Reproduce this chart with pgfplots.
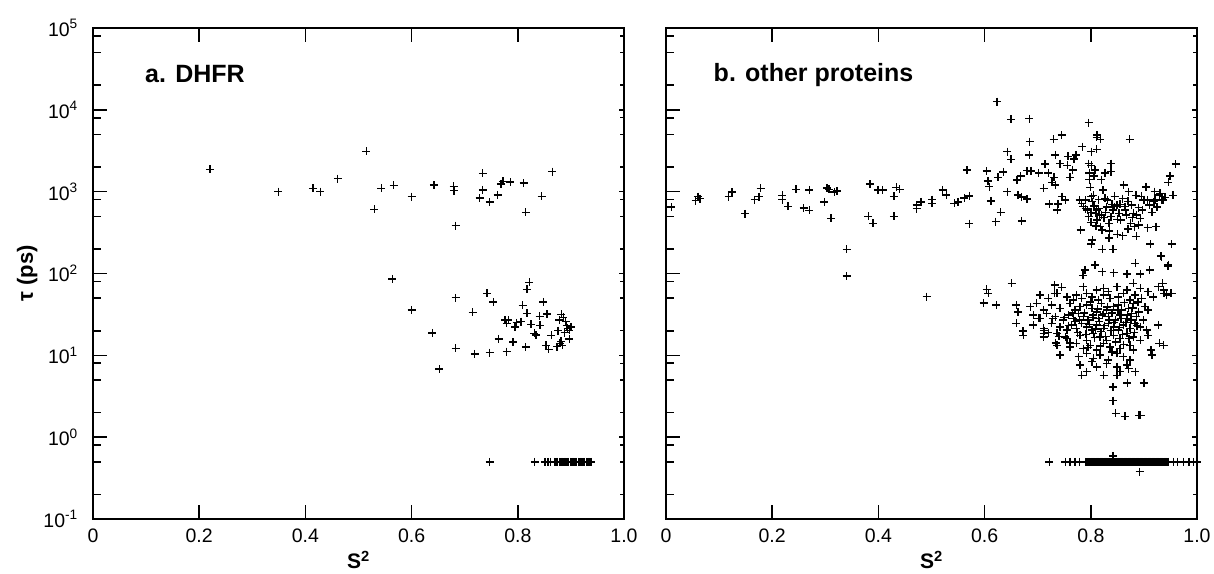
\documentclass[border=0pt]{standalone}
\usepackage{fontspec}
\setmainfont{Liberation Sans}
\usepackage{pgfplots}
\pgfplotsset{compat=1.18}

\pgfplotsset{every axis/.append style={
    scale only axis, width=531pt, height=491pt,
    xmin=0, xmax=1, ymin=0.1, ymax=1e5,
    clip=false,
    ytick={0.1,1,10,100,1000,10000,100000},
    minor ytick={0.2,0.5,0.8,2,5,8,20,50,80,200,500,800,2000,5000,8000,20000,50000,80000},
    tick align=inside,
    axis line style={line width=2pt},
}}
\tikzset{mypts/.style={only marks, mark=+, black, mark size=4pt, mark options={line width=1.4pt}}}

\begin{document}
\begin{tikzpicture}
% ---------------- panel a ----------------
\begin{semilogyaxis}[at={(0pt,0pt)}, anchor=south west,
    xtick={0,0.2,0.4,0.6,0.8,1.0},
    xticklabels={0,0.2,0.4,0.6,0.8,1.0},
    ytick pos=left,
    major tick length=14pt, minor tick length=8pt,
    major tick style={black, line width=1.6pt},
    minor tick style={black, line width=1.6pt},
    tick label style={font=\fontsize{19.5}{19.5}\selectfont, inner sep=0pt},
    xticklabel shift=10pt,
    yticklabel shift=15pt,
    xlabel={\textbf{S\textsuperscript{2}}},
    xlabel style={at={(axis description cs:0.5,-0.1015)}, anchor=base, inner sep=0pt, font=\fontsize{21}{21}\selectfont},
  yticklabels={10\textsuperscript{-1},10\textsuperscript{0},10\textsuperscript{1},10\textsuperscript{2},10\textsuperscript{3},10\textsuperscript{4},10\textsuperscript{5}},
  ylabel={\textbf{τ (ps)}},
  ylabel style={at={(axis description cs:-0.113,0.5)}, anchor=base, inner sep=0pt, font=\fontsize{22}{22}\selectfont},
]
\addplot[mypts] table {
0.220 1870
0.349 1000
0.414 1100
0.428 1000
0.461 1440
0.515 3100
0.530 607
0.543 1100
0.566 1190
0.600 867
0.642 1200
0.679 1160
0.680 1025
0.683 384
0.734 1670
0.734 1050
0.728 836
0.747 746
0.762 908
0.768 1245
0.772 1335
0.786 1310
0.811 1270
0.815 558
0.845 875
0.865 1755
0.564 86
0.822 78
0.817 64
0.600 35.7
0.639 18.8
0.652 6.8
0.683 50.5
0.683 12.2
0.715 33.4
0.719 10.4
0.742 57
0.754 44.7
0.747 10.8
0.764 15.9
0.776 26.9
0.782 27
0.779 24.5
0.779 11.1
0.791 14.5
0.795 22.3
0.798 25
0.806 25.9
0.809 40.7
0.817 32.5
0.815 12.6
0.825 24
0.831 18.5
0.834 17.7
0.841 29.9
0.842 23.2
0.848 45
0.855 31.9
0.853 13.3
0.858 11.8
0.863 17.5
0.876 20
0.879 14
0.882 31.6
0.884 13.3
0.886 29
0.890 25.7
0.894 21.3
0.897 20.2
0.900 22.3
0.897 15.9
0.881 14.8
0.888 19
0.892 23
0.878 27
0.874 12.8
0.747 0.5
0.832 0.5
0.851 0.5
0.857 0.5
0.862 0.5
0.869 0.5
0.872 0.5
0.875 0.5
0.878 0.5
0.881 0.5
0.884 0.5
0.887 0.5
0.890 0.5
0.893 0.5
0.896 0.5
0.899 0.5
0.902 0.5
0.905 0.5
0.908 0.5
0.911 0.5
0.914 0.5
0.917 0.5
0.920 0.5
0.923 0.5
0.926 0.5
0.929 0.5
0.932 0.5
0.935 0.5
0.938 0.5
};
\node[anchor=base west, inner sep=0pt, font=\fontsize{25}{25}\bfseries\selectfont] at (rel axis cs:0.098,0.8886) {a. DHFR};
\end{semilogyaxis}
\begin{semilogyaxis}[at={(0pt,0pt)}, anchor=south west,
    axis x line=none, axis y line*=right,
    yticklabels={},
    major tick length=5pt, minor tick length=4pt,
    major tick style={black, line width=1.4pt},
    minor tick style={black, line width=1.4pt}]
\addplot[draw=none] coordinates {(0.5,1)};
\end{semilogyaxis}

% ---------------- panel b ----------------
\begin{semilogyaxis}[at={(573pt,0pt)}, anchor=south west, yticklabels={},
    xtick={0,0.2,0.4,0.6,0.8,1.0},
    xticklabels={0,0.2,0.4,0.6,0.8,1.0},
    ytick pos=left,
    major tick length=14pt, minor tick length=8pt,
    major tick style={black, line width=1.6pt},
    minor tick style={black, line width=1.6pt},
    tick label style={font=\fontsize{19.5}{19.5}\selectfont, inner sep=0pt},
    xticklabel shift=10pt,
    yticklabel shift=15pt,
    xlabel={\textbf{S\textsuperscript{2}}},
    xlabel style={at={(axis description cs:0.5,-0.1015)}, anchor=base, inner sep=0pt, font=\fontsize{21}{21}\selectfont},
]
\addplot[mypts] table {
0.010 649
0.056 774
0.060 867
0.064 820
0.118 867
0.124 990
0.149 537
0.167 800
0.175 867
0.178 1096
0.219 900
0.219 800
0.230 660
0.245 1070
0.259 630
0.270 590
0.270 1050
0.298 750
0.303 1110
0.307 1070
0.311 471
0.317 990
0.322 1020
0.340 197
0.340 93
0.384 1240
0.381 500
0.390 409
0.399 1050
0.408 1050
0.429 880
0.429 500
0.434 1130
0.440 1070
0.472 620
0.472 690
0.480 750
0.501 720
0.501 800
0.521 1050
0.528 910
0.543 720
0.550 750
0.562 840
0.571 890
0.567 1835
0.571 408
0.604 1780
0.606 1350
0.609 1150
0.612 770
0.621 430
0.630 560
0.625 1490
0.635 1740
0.643 1000
0.623 12600
0.650 7650
0.684 7800
0.643 3080
0.650 2480
0.685 4080
0.684 2800
0.661 1387
0.668 1550
0.680 1800
0.687 1790
0.702 1700
0.663 910
0.670 860
0.680 810
0.670 440
0.714 2170
0.711 1100
0.720 1700
0.727 1300
0.731 1500
0.733 1200
0.730 4350
0.745 4920
0.733 2800
0.742 2200
0.757 2700
0.756 2100
0.761 1500
0.768 2500
0.772 2800
0.766 1850
0.722 705
0.738 705
0.737 596
0.746 867
0.752 790
0.784 3540
0.796 6960
0.801 3080
0.811 3300
0.811 4600
0.818 4350
0.812 4920
0.796 2200
0.801 2100
0.808 1850
0.797 1700
0.806 1550
0.797 1400
0.820 1400
0.827 1700
0.838 2200
0.838 1750
0.873 4350
0.781 340
0.803 256
0.801 229
0.822 197
0.834 272
0.842 197
0.860 290
0.886 285
0.907 362
0.912 229
0.952 229
0.932 163
0.945 123
0.960 2170
0.949 1550
0.946 1300
0.930 950
0.934 790
0.921 790
0.904 1130
0.900 800
0.897 600
0.779 789
0.783 719
0.786 655
0.790 789
0.794 596
0.796 494
0.799 1128
0.801 867
0.803 753
0.806 667
0.809 542
0.811 596
0.812 450
0.816 517
0.818 373
0.821 340
0.823 1047
0.827 828
0.831 789
0.834 409
0.838 494
0.842 596
0.845 655
0.849 686
0.853 542
0.856 450
0.862 1205
0.864 655
0.867 517
0.871 998
0.875 409
0.877 686
0.880 542
0.882 373
0.886 517
0.890 391
0.897 596
0.899 789
0.904 1148
0.907 789
0.919 753
0.923 373
0.929 908
0.936 789
0.815 620
0.828 560
0.840 700
0.860 820
0.870 350
0.850 300
0.893 470
0.800 420
0.825 480
0.790 620
0.805 900
0.815 800
0.820 520
0.830 650
0.845 880
0.850 460
0.855 700
0.865 600
0.870 760
0.878 480
0.885 900
0.890 640
0.895 880
0.910 690
0.915 560
0.920 1000
0.925 650
0.940 850
0.955 900
0.800 560
0.810 380
0.835 330
0.491 52
0.598 43.8
0.604 63.9
0.607 57
0.622 41.1
0.651 75.7
0.660 41
0.663 34
0.660 24.5
0.672 19.8
0.808 127
0.785 95
0.789 110
0.822 105
0.843 102
0.868 99
0.884 133
0.893 99
0.911 110
0.933 160
0.946 127
0.951 57
0.938 57
0.935 76
0.929 14
0.913 11.6
0.900 4.6
0.869 4.6
0.842 4.1
0.842 2.8
0.847 1.95
0.864 1.8
0.891 1.85
0.894 1.85
0.783 5.7
0.792 6.3
0.824 5.7
0.849 5.7
0.855 6.3
0.871 6.9
0.884 6.3
0.742 10
0.734 14.2
0.752 16.8
0.761 14.2
0.692 23.4
0.704 28.2
0.711 18.5
0.712 20
0.732 72
0.745 68
0.732 57
0.786 69
0.811 62.7
0.824 66
0.833 60
0.849 69
0.868 62.7
0.880 75.7
0.893 66
0.908 60
0.927 69
0.937 62.7
0.704 54.5
0.720 49.5
0.736 57
0.755 51.9
0.767 47.2
0.773 54.5
0.783 49.5
0.792 57
0.802 51.9
0.814 47.2
0.824 54.5
0.836 49.5
0.852 51.9
0.861 57
0.874 47.2
0.883 54.5
0.896 49.5
0.918 51.9
0.943 54.5
0.952 57
0.686 39.2
0.698 43
0.711 35.7
0.726 41
0.742 37.4
0.761 43
0.770 35.7
0.780 39.2
0.792 41
0.802 37.4
0.811 34
0.820 43
0.830 35.7
0.843 39.2
0.852 41
0.858 35.7
0.871 37.4
0.880 43
0.890 34
0.902 39.2
0.908 35.7
0.692 31
0.701 28.2
0.717 32.5
0.733 29.6
0.748 26.9
0.758 31
0.767 28.2
0.777 32.5
0.786 29.6
0.795 26.9
0.805 31
0.814 28.2
0.824 32.5
0.833 29.6
0.846 26.9
0.855 31
0.868 28.2
0.877 32.5
0.886 29.6
0.899 26.9
0.692 23.4
0.711 21.3
0.726 24.5
0.742 22.3
0.755 20.3
0.764 23.4
0.773 21.3
0.783 24.5
0.792 22.3
0.802 20.3
0.811 23.4
0.824 21.3
0.833 24.5
0.843 22.3
0.852 20.3
0.861 23.4
0.874 21.3
0.883 24.5
0.893 22.3
0.905 20.3
0.927 23.4
0.673 17.6
0.711 16.8
0.736 18.5
0.755 16.0
0.780 17.6
0.792 15.3
0.805 18.5
0.817 16.8
0.830 15.3
0.843 17.6
0.855 16.0
0.868 18.5
0.880 16.8
0.893 15.3
0.908 17.6
0.736 13.3
0.761 12.7
0.773 14.0
0.786 12.1
0.799 13.3
0.811 11.6
0.824 14.0
0.836 12.7
0.855 12.1
0.874 13.3
0.880 11.6
0.937 13.3
0.742 10.1
0.777 9.6
0.792 10.6
0.805 9.2
0.817 10.1
0.833 8.8
0.849 10.6
0.861 9.6
0.874 8.8
0.915 10.1
0.780 7.6
0.802 8.4
0.811 7.2
0.830 7.9
0.849 7.2
0.868 7.6
0.775 19
0.779 27
0.788 33
0.791 18
0.797 24
0.799 45
0.804 29
0.807 16.5
0.809 21
0.813 37
0.816 26
0.819 19.5
0.822 31
0.826 23
0.828 17
0.831 39
0.835 27
0.838 20
0.840 33
0.844 25
0.847 14.5
0.851 36
0.854 22
0.857 28
0.860 18
0.863 44
0.866 25
0.869 31
0.872 16
0.876 27
0.879 38
0.882 19
0.887 23
0.889 45
0.795 12.5
0.818 13
0.840 11
0.862 13.5
0.770 26
0.765 33
0.758 23
0.750 29
0.740 17
0.728 28
0.720 19
0.722 0.5
0.752 0.5
0.761 0.5
0.770 0.5
0.779 0.5
0.7900 0.5
0.7925 0.5
0.7950 0.5
0.7975 0.5
0.8000 0.5
0.8025 0.5
0.8050 0.5
0.8075 0.5
0.8100 0.5
0.8125 0.5
0.8150 0.5
0.8175 0.5
0.8200 0.5
0.8225 0.5
0.8250 0.5
0.8275 0.5
0.8300 0.5
0.8325 0.5
0.8350 0.5
0.8375 0.5
0.8400 0.5
0.8425 0.5
0.8450 0.5
0.8475 0.5
0.8500 0.5
0.8525 0.5
0.8550 0.5
0.8575 0.5
0.8600 0.5
0.8625 0.5
0.8650 0.5
0.8675 0.5
0.8700 0.5
0.8725 0.5
0.8750 0.5
0.8775 0.5
0.8800 0.5
0.8825 0.5
0.8850 0.5
0.8875 0.5
0.8900 0.5
0.8925 0.5
0.8950 0.5
0.8975 0.5
0.9000 0.5
0.9025 0.5
0.9050 0.5
0.9075 0.5
0.9100 0.5
0.9125 0.5
0.9150 0.5
0.9175 0.5
0.9200 0.5
0.9225 0.5
0.9250 0.5
0.9275 0.5
0.9300 0.5
0.9325 0.5
0.9350 0.5
0.9375 0.5
0.9400 0.5
0.9425 0.5
0.9450 0.5
0.956 0.5
0.963 0.5
0.974 0.5
0.985 0.5
0.993 0.5
1.000 0.5
0.842 0.59
0.892 0.38
};
\node[anchor=base west, inner sep=0pt, font=\fontsize{25}{25}\bfseries\selectfont] at (rel axis cs:0.0895,0.891) {b. other proteins};
\end{semilogyaxis}
\begin{semilogyaxis}[at={(573pt,0pt)}, anchor=south west,
    axis x line=none, axis y line*=right,
    yticklabels={},
    major tick length=5pt, minor tick length=4pt,
    major tick style={black, line width=1.4pt},
    minor tick style={black, line width=1.4pt}]
\addplot[draw=none] coordinates {(0.5,1)};
\end{semilogyaxis}

\pgfresetboundingbox
\useasboundingbox (-93pt,-54pt) rectangle (1121pt,519pt);
\end{tikzpicture}
\end{document}
